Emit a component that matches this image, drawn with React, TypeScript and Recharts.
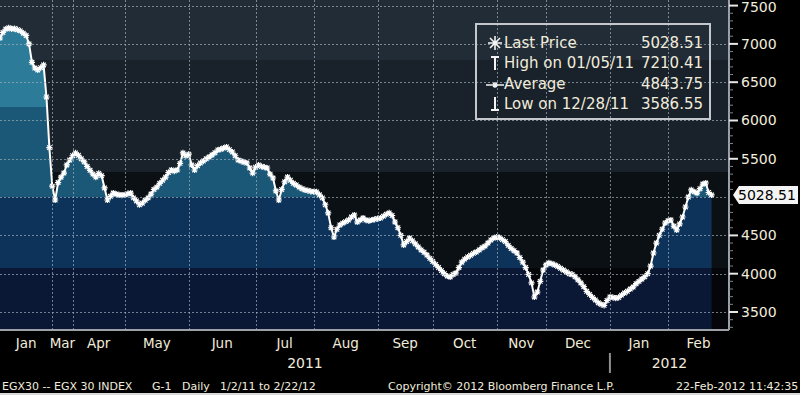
import React from 'react';
import { AreaChart, Area, XAxis, YAxis, ReferenceDot } from 'recharts';

// EGX 30 daily closes, one array per trading month (market shut Jan 28 - Mar 22, 2011)
const JAN_11 = [7077, 7150, 7194, 7210, 7195, 7200, 7185, 7170, 7140, 7110, 7000, 6760, 6685, 6660, 6690, 6725, 6307, 5646];
const MAR_11 = [5143, 4962, 5190, 5260, 5314, 5420, 5484];
const APR_11 = [5540, 5576, 5545, 5500, 5460, 5400, 5350, 5300, 5262, 5310, 5280, 5120, 4962, 5010, 5053, 5040, 5030, 5027];
const MAY_11 = [5030, 5045, 5053, 4990, 4950, 4900, 4920, 4960, 4990, 5040, 5100, 5130, 5180, 5220, 5260, 5320, 5354, 5340, 5354, 5440, 5576, 5540];
const JUN_11 = [5560, 5420, 5354, 5410, 5445, 5470, 5500, 5523, 5550, 5580, 5615, 5625, 5640, 5654, 5620, 5589, 5540, 5484, 5470, 5455, 5445, 5380, 5314];
const JUL_11 = [5390, 5419, 5400, 5390, 5380, 5300, 5249, 5080, 4962, 5100, 5200, 5262, 5220, 5180, 5158, 5130, 5110, 5093, 5085, 5075];
const AUG_11 = [5070, 5067, 5030, 4990, 4900, 4793, 4600, 4479, 4580, 4636, 4660, 4680, 4700, 4740, 4766, 4675, 4700, 4727, 4700, 4690, 4701, 4710];
const SEP_11 = [4720, 4727, 4750, 4775, 4793, 4760, 4675, 4600, 4500, 4375, 4420, 4466, 4430, 4390, 4349, 4310, 4280, 4244, 4200];
const OCT_11 = [4160, 4120, 4080, 4040, 4000, 3970, 3957, 3990, 4009, 4080, 4150, 4190, 4218, 4240, 4265, 4283, 4310, 4340, 4360, 4400, 4440, 4466];
const NOV_11 = [4479, 4470, 4445, 4420, 4370, 4330, 4300, 4270, 4210, 4150, 4080, 3990, 3880, 3696, 3760, 3900, 4048];
const DEC_11 = [4114, 4140, 4130, 4114, 4095, 4070, 4048, 4025, 4000, 3990, 3960, 3920, 3879, 3830, 3770, 3730, 3690, 3657, 3620, 3600, 3587, 3650];
const JAN_12 = [3696, 3690, 3680, 3690, 3720, 3748, 3770, 3800, 3826, 3870, 3900, 3930, 3960, 4000, 4100, 4270, 4400, 4500, 4580, 4662];
const FEB_12 = [4690, 4701, 4620, 4571, 4650, 4740, 4871, 5000, 5093, 5070, 5053, 5110, 5170, 5184, 5060, 5028.51];

const MONTH_LABELS = ['Jan', 'Mar', 'Apr', 'May', 'Jun', 'Jul', 'Aug', 'Sep', 'Oct', 'Nov', 'Dec', 'Jan', 'Feb'];
const MONTH_PRICES = [JAN_11, MAR_11, APR_11, MAY_11, JUN_11, JUL_11, AUG_11, SEP_11, OCT_11, NOV_11, DEC_11, JAN_12, FEB_12];
const YEAR_LABELS = ['2011', '2012'];
const YEAR_FIRST_MONTH = [0, 11];
const DAYS_LEFT_IN_FEB = 5;

const Y_LABELS = [3500, 4000, 4500, 5000, 5500, 6000, 6500, 7000, 7500];
const Y_DOMAIN = [3265, 7573];
const LAST_PRICE = 5028.51;

const LEGEND_ROWS = [
  { icon: 'last', label: 'Last Price', value: '5028.51' },
  { icon: 'high', label: 'High on 01/05/11', value: '7210.41' },
  { icon: 'avg', label: 'Average', value: '4843.75' },
  { icon: 'low', label: 'Low on 12/28/11', value: '3586.55' },
];

// ---- derived table / tick positions (trading-day index on x) ----
const data: { day: number; price: number }[] = [];
const monthStarts: number[] = [];
MONTH_PRICES.forEach((prices) => {
  monthStarts.push(data.length);
  prices.forEach((p) => data.push({ day: data.length, price: p }));
});
const AXIS_END = data.length + DAYS_LEFT_IN_FEB;
const monthEnds = [...monthStarts.slice(1), AXIS_END];
const monthMids = monthStarts.map((s, i) => (s + monthEnds[i]) / 2);
const yearStarts = YEAR_FIRST_MONTH.map((m) => monthStarts[m]);
const yearEnds = [...yearStarts.slice(1), AXIS_END];
const yearMids = yearStarts.map((s, i) => (s + yearEnds[i]) / 2);
const yearDividers = yearStarts.slice(1);
const minorTicks: number[] = [];
for (let v = 3300; v <= 7500; v += 100) minorTicks.push(v);

const PLOT_W = 729;
const PLOT_H = 330;
const FONT = '"DejaVu Sans", Verdana, sans-serif';
const TEXT = '#f1ecdc';
const AXIS = '#9ba1a7';
const GRID = 'rgba(160,172,184,0.7)';

// plot background bands (Bloomberg style), top to bottom of the plot
const BG_BANDS =
  'linear-gradient(to bottom, #222c37 0px, #222c37 60px, #19222a 60px, #19222a 172px, #0b1015 172px, #0b1015 268px, #040609 268px)';

function StarDot(props: any) {
  const { cx, cy } = props;
  if (cx == null || cy == null) return null;
  const r = 3.1;
  const d = 2.3;
  return (
    <path
      d={`M${cx - r},${cy}H${cx + r}M${cx},${cy - r}V${cy + r}M${cx - d},${cy - d}L${cx + d},${cy + d}M${cx - d},${cy + d}L${cx + d},${cy - d}`}
      stroke="#ffffff"
      strokeWidth={1.2}
      fill="none"
    />
  );
}

// dotted gridlines, anchored on a reference point placed by the chart scales
function HGridLine(props: any) {
  const { cx, cy } = props;
  if (cx == null || cy == null) return null;
  const gy = Math.round(cy) + 0.5;
  return <path d={`M${cx},${gy}H${cx + PLOT_W}`} stroke={GRID} strokeWidth={1} strokeDasharray="2 2" fill="none" />;
}

function VGridLine(props: any) {
  const { cx, cy } = props;
  if (cx == null || cy == null) return null;
  const gx = Math.round(cx) + 0.5;
  return <path d={`M${gx},${cy - PLOT_H}V${cy}`} stroke={GRID} strokeWidth={1} strokeDasharray="2 2" fill="none" />;
}

// right axis: minor ticks every 100, labelled ticks every 500
function PriceTick(props: any) {
  const { x, y, payload } = props;
  const v = payload.value;
  const major = v % 500 === 0;
  const underTag = major && Math.abs(v - LAST_PRICE) < 250;
  if (underTag) return null;
  return (
    <g>
      <line x1={x} x2={x + (major ? 9 : 4)} y1={y} y2={y} stroke={major ? '#e6e6e6' : '#7d848a'} strokeWidth={major ? 2 : 1} />
      {major && (
        <text x={x + 12} y={Math.max(y + 5, 12)} fill={TEXT} fontSize={14} fontFamily={FONT}>
          {v}
        </text>
      )}
    </g>
  );
}

function YearTick(props: any) {
  const { x, y, payload } = props;
  const v = payload.value;
  if (yearDividers.includes(v)) {
    return <line x1={x} x2={x} y1={y - 1} y2={y + 19} stroke="#8d8f92" strokeWidth={2} />;
  }
  const i = yearMids.indexOf(v);
  return (
    <text x={x} y={y + 14} textAnchor="middle" fill={TEXT} fontSize={14} fontFamily={FONT}>
      {YEAR_LABELS[i]}
    </text>
  );
}

function LastPriceTag(props: any) {
  const { cx, cy } = props;
  if (cx == null || cy == null) return null;
  const tip = cx + 4;
  return (
    <g>
      <path d={`M${tip},${cy}L${tip + 6},${cy - 9}H798V${cy + 9}H${tip + 6}Z`} fill="#f4f4f4" />
      <text x={tip + 5} y={cy + 5} fill="#000" fontSize={14} fontFamily={FONT}>
        {LAST_PRICE.toFixed(2)}
      </text>
    </g>
  );
}

function LegendIcon({ kind }: { kind: string }) {
  const s = { stroke: '#f4f4f4', strokeWidth: 1.6, fill: 'none' };
  return (
    <svg width={18} height={18} style={{ display: 'block' }}>
      {kind === 'last' && <path d="M2,9H16M9,2V16M4,4L14,14M4,14L14,4" {...s} />}
      {kind === 'high' && <path d="M5,3H13M9,3V16" {...s} strokeWidth={2} />}
      {kind === 'avg' && <path d="M0,10H18M9,7V13M7,8L11,12M7,12L11,8" {...s} strokeWidth={1.3} />}
      {kind === 'low' && <path d="M9,2V15M5,15H13" {...s} strokeWidth={2} />}
    </svg>
  );
}

export default function App() {
  return (
    <div style={{ position: 'absolute', left: 0, top: 0, width: 800, height: 395, background: '#000', overflow: 'hidden' }}>
      <div style={{ position: 'absolute', left: 0, top: 0, width: PLOT_W, height: PLOT_H, background: BG_BANDS }} />
      <svg width={0} height={0} style={{ position: 'absolute' }}>
        <defs>
          <linearGradient id="fillBands" x1="0" y1="0" x2="0" y2={PLOT_H} gradientUnits="userSpaceOnUse">
            <stop offset="0" stopColor="#2c7b98" />
            <stop offset="0.324" stopColor="#2c7b98" />
            <stop offset="0.324" stopColor="#1b5777" />
            <stop offset="0.597" stopColor="#1b5777" />
            <stop offset="0.597" stopColor="#0d335a" />
            <stop offset="0.812" stopColor="#0d335a" />
            <stop offset="0.812" stopColor="#0a1836" />
            <stop offset="1" stopColor="#0a1836" />
          </linearGradient>
        </defs>
      </svg>

      <div style={{ position: 'absolute', left: 0, top: 0 }}>
        <AreaChart width={800} height={395} data={data} margin={{ top: 0, right: 0, bottom: 15, left: 0 }}>
          <XAxis
            dataKey="day"
            type="number"
            domain={[0, AXIS_END]}
            ticks={monthStarts}
            interval={0}
            tick={false}
            tickSize={4}
            tickLine={{ stroke: AXIS, strokeWidth: 1.5 }}
            axisLine={{ stroke: AXIS, strokeWidth: 2 }}
            height={4}
          />
          <XAxis
            xAxisId="months"
            dataKey="day"
            type="number"
            domain={[0, AXIS_END]}
            ticks={monthMids}
            interval={0}
            tickFormatter={(v: number) => MONTH_LABELS[monthMids.indexOf(v)]}
            tick={{ fill: TEXT, fontSize: 13.5, fontFamily: FONT }}
            tickLine={false}
            axisLine={false}
            tickSize={0}
            tickMargin={4}
            height={20}
          />
          <XAxis
            xAxisId="years"
            dataKey="day"
            type="number"
            domain={[0, AXIS_END]}
            ticks={[...yearMids, ...yearDividers]}
            interval={0}
            tick={<YearTick />}
            tickLine={false}
            axisLine={false}
            tickSize={0}
            tickMargin={0}
            height={26}
          />
          <YAxis
            orientation="right"
            type="number"
            domain={Y_DOMAIN}
            allowDataOverflow
            ticks={minorTicks}
            interval={0}
            tick={<PriceTick />}
            tickLine={false}
            tickSize={0}
            tickMargin={0}
            axisLine={{ stroke: AXIS, strokeWidth: 2 }}
            width={71}
          />
          <Area
            type="linear"
            dataKey="price"
            stroke="#ffffff"
            strokeWidth={2}
            fill="url(#fillBands)"
            fillOpacity={1}
            dot={(p: any) => <StarDot key={`s${p.index}`} {...p} />}
            activeDot={false}
            isAnimationActive={false}
          />
          {Y_LABELS.map((v) => (
            <ReferenceDot key={`h${v}`} x={0} y={v} ifOverflow="visible" shape={<HGridLine />} />
          ))}
          {monthStarts.slice(1).map((d) => (
            <ReferenceDot key={`v${d}`} x={d} y={Y_DOMAIN[0]} ifOverflow="visible" shape={<VGridLine />} />
          ))}
          <ReferenceDot x={AXIS_END} y={LAST_PRICE} ifOverflow="visible" shape={<LastPriceTag />} />
        </AreaChart>
      </div>

      <div
        style={{
          position: 'absolute',
          left: 475,
          top: 23,
          width: 236,
          height: 97,
          border: '2px solid #c4c8cc',
          boxSizing: 'border-box',
          paddingTop: 8,
          fontFamily: FONT,
          fontSize: 15,
          color: TEXT,
        }}
      >
        {LEGEND_ROWS.map((r) => (
          <div key={r.label} style={{ position: 'relative', height: 20.3, lineHeight: '20px' }}>
            <div style={{ position: 'absolute', left: 9, top: 1 }}>
              <LegendIcon kind={r.icon} />
            </div>
            <span style={{ position: 'absolute', left: 27 }}>{r.label}</span>
            <span style={{ position: 'absolute', right: 6 }}>{r.value}</span>
          </div>
        ))}
      </div>

      <div style={{ position: 'absolute', top: 380, left: 0, width: 800, height: 13, fontFamily: FONT, fontSize: 11, lineHeight: '13px', color: TEXT, whiteSpace: 'nowrap' }}>
        <span style={{ position: 'absolute', left: 2 }}>EGX30 -- EGX 30 INDEX</span>
        <span style={{ position: 'absolute', left: 152 }}>G-1</span>
        <span style={{ position: 'absolute', left: 182 }}>Daily</span>
        <span style={{ position: 'absolute', left: 220 }}>1/2/11 to 2/22/12</span>
        <span style={{ position: 'absolute', left: 388 }}>Copyright© 2012 Bloomberg Finance L.P.</span>
        <span style={{ position: 'absolute', left: 676 }}>22-Feb-2012 11:42:35</span>
      </div>
      <div style={{ position: 'absolute', left: 0, top: 393, width: 800, height: 2, background: '#d9d9d9' }} />
    </div>
  );
}
